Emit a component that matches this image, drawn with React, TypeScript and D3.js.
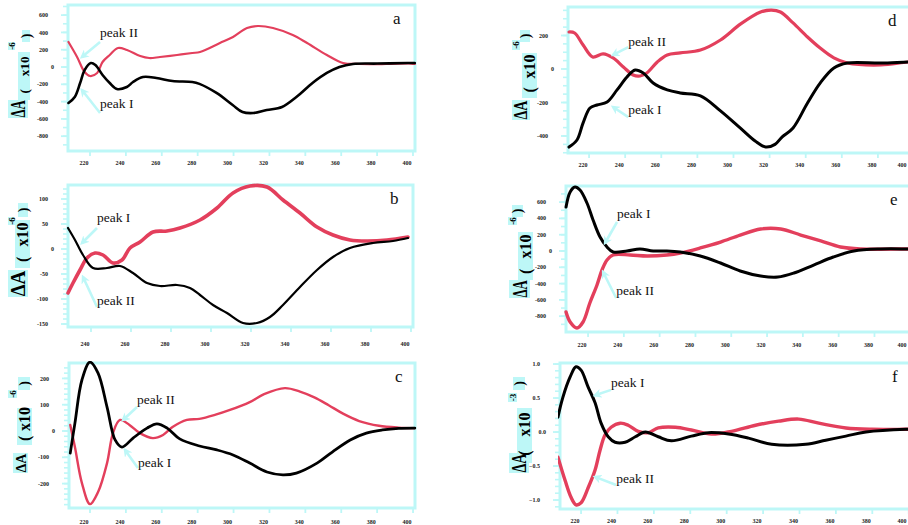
import React from 'react';
import * as d3 from 'd3';

// ---------- data ----------
// panel a
const aWlI = [208, 211.5, 214.5, 217, 220.5, 223, 227, 231, 235, 240.5, 244, 249.5, 257, 266, 277, 281, 290.5, 299.5, 305, 311, 318.5, 327, 335, 344, 352, 359, 366.5, 380, 397, 401];
const aPeakI = [-416, -347, -185, -35, 46, 23, -92, -185, -254, -231, -173, -116, -127, -162, -173, -195, -300, -439, -520, -532, -497, -462, -347, -185, -69, 0, 35, 40, 46, 46];
const aWlII = [208, 212.8, 217, 220, 224, 227, 231, 235.6, 240.6, 248, 253, 259, 268.5, 277, 281.3, 292.4, 299.7, 307.5, 313.6, 322, 333, 341, 352, 361, 370, 385, 399, 401];
const aPeakII = [289, 116, -58, -104, -69, 58, 139, 220, 197, 127, 104, 116, 139, 162, 173, 277, 347, 451, 474, 451, 370, 277, 139, 46, 35, 35, 40, 35];
// panel b
const bWlI = [228.5, 232, 236, 241, 248, 254.5, 261, 268, 274.5, 283, 289.5, 294.5, 301, 308, 316, 323, 329.5, 336, 344.5, 353, 361, 369.5, 381, 391, 398.5];
const bPeakI = [42, 18, -12, -38, -38, -34, -48, -68, -74, -72, -78, -92, -112, -128, -148, -148, -136, -112, -76, -42, -16, 2, 12, 16, 22];
const bWlII = [228.5, 231, 234.5, 238, 242, 246, 251, 255.5, 259.5, 264.5, 271, 278, 284.5, 294.5, 303, 311, 319.5, 328, 336, 344.5, 353, 361, 369.5, 378, 388, 398.5];
const bPeakII = [-88, -68, -42, -18, -8, -12, -28, -22, 2, 14, 34, 36, 42, 58, 82, 112, 126, 124, 98, 72, 44, 28, 18, 16, 18, 24];
// panel c
const cWlI = [209, 211.6, 215.5, 220, 224.5, 229.5, 234, 237.8, 244, 251.8, 257.3, 263, 270, 281, 290.7, 299.7, 309, 318.6, 327.5, 335, 346.5, 355, 365, 374, 383, 392, 401];
const cPeakI = [-84, 30, 194, 262, 220, 91, -34, -61, -27, 11, 27, 11, -30, -57, -72, -91, -122, -156, -167, -160, -122, -80, -34, -8, 4, 10, 11];
const cWlII = [209, 211.6, 215.5, 220, 224.5, 229.5, 232.8, 236.7, 242, 247.8, 255, 260.7, 266, 274, 281, 290, 298, 309, 317, 328.6, 337, 345, 353, 361, 370, 381, 392, 401];
const cPeakII = [23, -61, -198, -278, -232, -122, -8, 42, 23, -8, -27, -15, 15, 42, 46, 62, 80, 110, 140, 163, 150, 128, 98, 66, 38, 20, 13, 11];
// panel d
const dWlI = [208.9, 213.3, 216.7, 220.5, 224.4, 230, 235.5, 241, 245.5, 250, 255.5, 263.3, 270.5, 281.7, 292.8, 304, 312, 317.8, 323, 327, 333, 341, 348, 355.6, 363, 381.7, 397, 403];
const dPeakI = [-466, -424, -322, -233, -215, -197, -125, -48, -6, -24, -84, -125, -143, -160, -250, -355, -430, -466, -450, -405, -352, -203, -84, 6, 36, 36, 42, 42];
const dWlII = [208.9, 212, 216.7, 222, 227.8, 233.3, 239, 244.4, 248.3, 252, 257.8, 263.3, 270.5, 281.7, 292.8, 304, 315, 321, 326, 333, 341, 348, 355.6, 363, 381.7, 397, 403];
const dPeakII = [221, 215, 143, 72, 90, 66, 12, -36, -42, -24, 42, 84, 96, 113, 173, 269, 340, 352, 340, 275, 191, 125, 66, 36, 24, 42, 42];
// panel e
const eWlI = [207.7, 210, 212.7, 215.5, 219.4, 222.8, 226.7, 230.6, 234, 241.8, 249, 256.4, 264, 271.5, 282.7, 294, 305, 316.4, 326, 335, 346, 357, 368.5, 383.6, 399, 404];
const ePeakI = [540, 724, 785, 748, 589, 380, 172, 49, -12, 0, 25, 0, 0, -12, -61, -147, -245, -307, -319, -270, -172, -74, 0, 25, 25, 25];
const eWlII = [207.7, 210, 213.8, 217.2, 221, 225, 227.8, 230.6, 234, 243.5, 253, 264, 271.5, 282.7, 294, 305, 316.4, 327.6, 338.8, 350, 361, 372.4, 399, 404];
const ePeakII = [-748, -871, -945, -871, -638, -417, -233, -110, -49, -49, -61, -49, -25, 37, 110, 196, 270, 270, 196, 123, 49, 25, 25, 25];
// panel f
const fWlI = [207.3, 210, 214, 217.2, 220, 223.9, 227.7, 231, 234.9, 238.7, 244.2, 249.8, 255.3, 262.4, 269.6, 280.6, 290, 301, 312, 324.7, 343.4, 354.4, 365.5, 376.5, 398.5, 404];
const fPeakI = [0.22, 0.51, 0.81, 0.96, 0.91, 0.66, 0.43, 0.13, -0.07, -0.15, -0.15, -0.07, 0.0, -0.07, -0.13, -0.06, -0.01, -0.03, -0.09, -0.18, -0.18, -0.12, -0.06, 0.0, 0.04, 0.04];
const fWlII = [207.3, 211.2, 214.5, 217.2, 220, 223.9, 227.7, 230.5, 233.2, 236.5, 241.5, 245.9, 251.4, 256.9, 262.4, 271.8, 280.6, 291.6, 302.6, 315.9, 328.5, 339.6, 350.6, 365.5, 379.8, 398.5, 404];
const fPeakII = [-0.37, -0.71, -0.96, -1.07, -1.04, -0.82, -0.56, -0.26, -0.04, 0.07, 0.13, 0.10, 0.01, -0.01, 0.06, 0.07, 0.03, -0.03, 0.01, 0.10, 0.16, 0.19, 0.13, 0.06, 0.04, 0.04, 0.04];

// tick labels
const xTicks220 = [220, 240, 260, 280, 300, 320, 340, 360, 380, 400];
const xTicks240 = [240, 260, 280, 300, 320, 340, 360, 380, 400];
const yTicksA = [600, 400, 200, 0, -200, -400, -600, -800];
const yTicksB = [100, 50, 0, -50, -100, -150];
const yTicksC = [200, 100, 0, -100, -200];
const yTicksD = [200, 0, -200, -400];
const yTicksE = [600, 400, 200, 0, -200, -400, -600, -800];
const yTicksF = [1.0, 0.5, 0.0, -0.5, -1.0];

// annotations (data coordinates): text anchor, arrow tail, arrow tip
const annA = [
  { text: 'peak II', tx: 225.6, ty: 347, x0: 225.6, y0: 289, x1: 215.5, y1: 116 },
  { text: 'peak I', tx: 225.6, ty: -474, x0: 225.6, y0: -532, x1: 215.5, y1: -266 },
];
const annB = [
  { text: 'peak I', tx: 243, ty: 54, x0: 243, y0: 42, x1: 235.5, y1: 12 },
  { text: 'peak II', tx: 243, ty: -112, x0: 243, y0: -116, x1: 236, y1: -56 },
];
const annC = [
  { text: 'peak II', tx: 246.2, ty: 103, x0: 246.2, y0: 91, x1: 238.4, y1: 42 },
  { text: 'peak I', tx: 246.7, ty: -137, x0: 246.7, y0: -141, x1: 239.5, y1: -72 },
];
const annD = [
  { text: 'peak II', tx: 241.7, ty: 137, x0: 241.7, y0: 131, x1: 233.3, y1: 84 },
  { text: 'peak I', tx: 241.7, ty: -269, x0: 241.7, y0: -287, x1: 233.3, y1: -227 },
];
const annE = [
  { text: 'peak I', tx: 236.2, ty: 405, x0: 236.2, y0: 356, x1: 229.5, y1: 98 },
  { text: 'peak II', tx: 235.7, ty: -540, x0: 235.7, y0: -577, x1: 228.4, y1: -258 },
];
const annF = [
  { text: 'peak I', tx: 236.5, ty: 0.66, x0: 236.5, y0: 0.62, x1: 227.7, y1: 0.54 },
  { text: 'peak II', tx: 239.3, ty: -0.75, x0: 239.3, y0: -0.78, x1: 227.7, y1: -0.66 },
];

// ---------- styles ----------
const CYAN = '#bdf7f7';
const RED = '#e33f5c';
const BLACK = '#000000';
const SERIF = "'Liberation Serif', 'Times New Roman', serif";
const SVG_W = 908;

type Box = [number, number, number, number]; // x0,x1,y0,y1 relative to frame left/top

interface Panel {
  letter: string;
  left: number; right: number; top: number; bottom: number;
  xDomain: [number, number]; yDomain: [number, number];
  xTicks: number[]; yTicks: number[]; yMinor: number; fmt: (v: number) => string;
  exp: string; letterX: number; xLabDy: number;
  wlI: number[]; peakI: number[]; wlII: number[]; peakII: number[];
  wI: number; wII: number;
  ann: { text: string; tx: number; ty: number; x0: number; y0: number; x1: number; y1: number }[];
  lab: { d: Box; x10: Box; sup: Box; par: Box };
}

const intFmt = (v: number) => String(v);
const decFmt = d3.format('.1f');

const panels: Panel[] = [
  {
    letter: 'a', left: 68, right: 415, top: 5, bottom: 151,
    xDomain: [207.74, 401.12], yDomain: [-971, 717],
    xTicks: xTicks220, yTicks: yTicksA, yMinor: 100, fmt: intFmt, exp: '-6', letterX: 325, xLabDy: 14,
    wlI: aWlI, peakI: aPeakI, wlII: aWlII, peakII: aPeakII, wI: 2.6, wII: 2.2, ann: annA,
    lab: { d: [-60, -40, 95, 113], x10: [-50, -38, 47, 95], sup: [-60, -53, 37, 45], par: [-46, -38, 25, 37] },
  },
  {
    letter: 'b', left: 68, right: 413, top: 185, bottom: 327,
    xDomain: [228.5, 401], yDomain: [-156, 128],
    xTicks: xTicks240, yTicks: yTicksB, yMinor: 10, fmt: intFmt, exp: '-6', letterX: 322, xLabDy: 19,
    wlI: bWlI, peakI: bPeakI, wlII: bWlII, peakII: bPeakII, wI: 2.2, wII: 3.6, ann: annB,
    lab: { d: [-60, -40, 85, 112], x10: [-53, -38, 35, 83], sup: [-60, -53, 32, 40], par: [-50, -40, 18, 32] },
  },
  {
    letter: 'c', left: 69, right: 415, top: 363, bottom: 508,
    xDomain: [208.3, 401.1], yDomain: [-292.8, 258.6],
    xTicks: xTicks220, yTicks: yTicksC, yMinor: 20, fmt: intFmt, exp: '-6', letterX: 326, xLabDy: 16,
    wlI: cWlI, peakI: cPeakI, wlII: cWlII, peakII: cPeakII, wI: 2.8, wII: 2.4, ann: annC,
    lab: { d: [-56, -41, 90, 110], x10: [-52, -37, 45, 82], sup: [-61, -52, 27, 35], par: [-51, -39, 14, 27] },
  },
  {
    letter: 'd', left: 568, right: 916, top: 7, bottom: 153,
    xDomain: [208.33, 401.1], yDomain: [-501.5, 370.1],
    xTicks: xTicks220, yTicks: yTicksD, yMinor: 50, fmt: intFmt, exp: '-6', letterX: 320, xLabDy: 14,
    wlI: dWlI, peakI: dPeakI, wlII: dWlII, peakII: dPeakII, wI: 3, wII: 3.2, ann: annD,
    lab: { d: [-56, -38, 93, 113], x10: [-46, -31, 46, 91], sup: [-56, -48, 33, 43], par: [-48, -38, 23, 35] },
  },
  {
    letter: 'e', left: 566, right: 916, top: 186, bottom: 332,
    xDomain: [207.68, 403.2], yDomain: [-993.9, 797.5],
    xTicks: xTicks220, yTicks: yTicksE, yMinor: 100, fmt: intFmt, exp: '-6', letterX: 324, xLabDy: 15,
    wlI: eWlI, peakI: ePeakI, wlII: eWlII, peakII: ePeakII, wI: 3, wII: 3.4, ann: annE,
    lab: { d: [-57, -36, 94, 112], x10: [-48, -33, 46, 94], sup: [-58, -49, 31, 39], par: [-54, -43, 19, 31] },
  },
  {
    letter: 'f', left: 560, right: 916, top: 363, bottom: 509,
    xDomain: [208.43, 404.0], yDomain: [-1.132, 1.015],
    xTicks: xTicks220, yTicks: yTicksF, yMinor: 0.1, fmt: decFmt, exp: '-3', letterX: 332, xLabDy: 14,
    wlI: fWlI, peakI: fPeakI, wlII: fWlII, peakII: fPeakII, wI: 3, wII: 3.4, ann: annF,
    lab: { d: [-51, -31, 90, 110], x10: [-43, -28, 45, 100], sup: [-52, -43, 30, 39], par: [-47, -35, 14, 27] },
  },
];

function BoxRect({ box, left, top }: { box: Box; left: number; top: number }) {
  const [x0, x1, y0, y1] = box;
  return <rect x={left + x0} y={top + y0} width={x1 - x0} height={y1 - y0} fill={CYAN} />;
}

function RotLabel({ cx, cy, text, fontSize, len }: { cx: number; cy: number; text: string; fontSize: number; len?: number }) {
  return (
    <text
      transform={`translate(${cx},${cy}) rotate(-90)`}
      textAnchor="middle"
      dominantBaseline="central"
      fontFamily={SERIF}
      fontWeight="bold"
      fontSize={fontSize}
      fill="#000"
      {...(len ? { textLength: len, lengthAdjust: 'spacingAndGlyphs' } : {})}
    >
      {text}
    </text>
  );
}

function YTitle({ p }: { p: Panel }) {
  const L = p.left;
  const T = p.top;
  const { d, x10, sup, par } = p.lab;
  const dFs = (d[1] - d[0]) * 1.0;
  const xFs = Math.min(16, (x10[1] - x10[0]) * 1.1);
  const xh = x10[3] - x10[2];
  return (
    <g>
      <BoxRect box={d} left={L} top={T} />
      <BoxRect box={x10} left={L} top={T} />
      <BoxRect box={sup} left={L} top={T} />
      <BoxRect box={par} left={L} top={T} />
      <RotLabel cx={L + (d[0] + d[1]) / 2} cy={T + (d[2] + d[3]) / 2} text="ΔA" fontSize={dFs} len={(d[3] - d[2]) * 0.95} />
      <RotLabel cx={L + (x10[0] + x10[1]) / 2} cy={T + x10[2] + xh * 0.3} text="x10" fontSize={xFs} />
      <RotLabel cx={L + (x10[0] + x10[1]) / 2} cy={T + x10[2] + xh * 0.82} text="(" fontSize={xFs} />
      <RotLabel cx={L + (sup[0] + sup[1]) / 2} cy={T + (sup[2] + sup[3]) / 2} text={p.exp} fontSize={9} />
      <RotLabel cx={L + (par[0] + par[1]) / 2} cy={T + (par[2] + par[3]) / 2} text=")" fontSize={14} />
    </g>
  );
}

function PanelView({ p }: { p: Panel }) {
  const x = d3.scaleLinear().domain(p.xDomain).range([p.left, p.right]);
  const y = d3.scaleLinear().domain(p.yDomain).range([p.bottom, p.top]);
  const line = d3
    .line<[number, number]>()
    .x((d) => x(d[0]))
    .y((d) => y(d[1]))
    .curve(d3.curveCatmullRom.alpha(0.5));
  const ptsI = p.wlI.map((w, i) => [w, p.peakI[i]] as [number, number]);
  const ptsII = p.wlII.map((w, i) => [w, p.peakII[i]] as [number, number]);
  const minor = d3.range(
    Math.ceil(p.yDomain[0] / p.yMinor) * p.yMinor,
    p.yDomain[1],
    p.yMinor
  );
  const clipId = `clip-${p.letter}`;
  return (
    <g>
      <defs>
        <clipPath id={clipId}>
          <rect x={p.left - 2} y={p.top - 2} width={p.right - p.left + 4} height={p.bottom - p.top + 4} />
        </clipPath>
      </defs>
      {/* frame */}
      <rect x={p.left} y={p.top} width={p.right - p.left} height={p.bottom - p.top} fill="none" stroke={CYAN} strokeWidth={3} />
      {/* y minor ticks */}
      {minor.map((v, i) => (
        <line key={`m${i}`} x1={p.left - 5} x2={p.left} y1={y(v)} y2={y(v)} stroke={CYAN} strokeWidth={1.6} />
      ))}
      {p.yTicks.map((v, i) => (
        <line key={`M${i}`} x1={p.left - 7} x2={p.left} y1={y(v)} y2={y(v)} stroke={CYAN} strokeWidth={1.8} />
      ))}
      {/* y tick labels */}
      {p.yTicks.map((v, i) => (
        <text
          key={`yl${i}`}
          x={v === 0 ? p.left - 14 : p.left - 20}
          y={y(v)}
          dy="0.35em"
          textAnchor="end"
          fontFamily={SERIF}
          fontWeight="bold"
          fontSize={6}
          fill="#222"
        >
          {p.fmt(v)}
        </text>
      ))}
      {/* x ticks */}
      {p.xTicks.map((v, i) => (
        <line key={`xt${i}`} x1={x(v)} x2={x(v)} y1={p.bottom} y2={p.bottom + 5} stroke={CYAN} strokeWidth={1.8} />
      ))}
      {p.xTicks.map((v, i) => (
        <text
          key={`xl${i}`}
          x={Math.min(x(v) - 6, SVG_W - 6)}
          y={p.bottom + p.xLabDy}
          textAnchor="middle"
          fontFamily={SERIF}
          fontWeight="bold"
          fontSize={6}
          fill="#222"
        >
          {v}
        </text>
      ))}
      {/* y axis title */}
      <YTitle p={p} />
      {/* curves */}
      <g clipPath={`url(#${clipId})`}>
        <path d={line(ptsII) || ''} fill="none" stroke={RED} strokeWidth={p.wII} strokeLinejoin="round" strokeLinecap="round" />
        <path d={line(ptsI) || ''} fill="none" stroke={BLACK} strokeWidth={p.wI} strokeLinejoin="round" strokeLinecap="round" />
      </g>
      {/* annotations */}
      {p.ann.map((a, i) => (
        <g key={`a${i}`}>
          <line
            x1={x(a.x0)}
            y1={y(a.y0)}
            x2={x(a.x1)}
            y2={y(a.y1)}
            stroke={CYAN}
            strokeWidth={2.6}
            markerEnd="url(#arrowhead)"
          />
          <text x={x(a.tx)} y={y(a.ty)} fontFamily={SERIF} fontSize={13.5} fill="#111">
            {a.text}
          </text>
        </g>
      ))}
      {/* panel letter */}
      <text x={p.left + p.letterX} y={p.top + 19} fontFamily={SERIF} fontSize={17} fill="#111">
        {p.letter}
      </text>
    </g>
  );
}

export default function App() {
  return (
    <svg
      width={SVG_W}
      height={525}
      style={{ position: 'absolute', left: 0, top: 0, background: '#fff' }}
      xmlns="http://www.w3.org/2000/svg"
    >
      <defs>
        <marker
          id="arrowhead"
          viewBox="0 0 10 10"
          refX={7}
          refY={5}
          markerWidth={9}
          markerHeight={9}
          markerUnits="userSpaceOnUse"
          orient="auto"
        >
          <path d="M0,0 L10,5 L0,10 L3,5 z" fill={CYAN} />
        </marker>
      </defs>
      <rect x={0} y={0} width={SVG_W} height={525} fill="#fff" />
      {panels.map((p) => (
        <PanelView key={p.letter} p={p} />
      ))}
    </svg>
  );
}
